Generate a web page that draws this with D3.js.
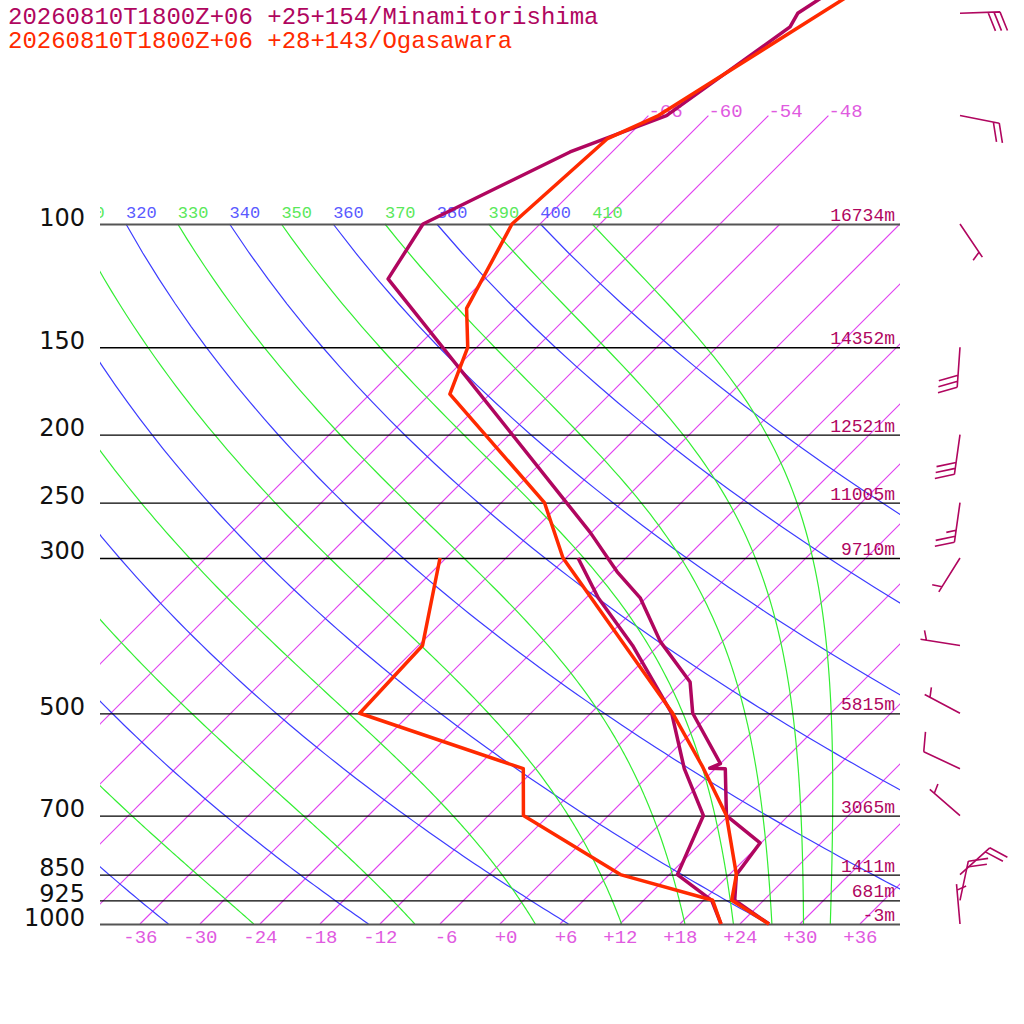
<!DOCTYPE html>
<html>
<head>
<meta charset="utf-8">
<script src="https://cdn.jsdelivr.net/npm/d3@7"></script>
<style>
  body { margin: 0; background: #fff; }
  svg { display: block; }
  .iso { fill: none; stroke: #e040f0; stroke-width: 1.15px; }
  .dry { fill: none; stroke: #3c3cff; stroke-width: 1.2px; }
  .moist { fill: none; stroke: #33ee33; stroke-width: 1.2px; }
</style>
</head>
<body>
<div id="chart"></div>
<script>
// sounding data
var stations = ["20260810T1800Z+06 +25+154/Minamitorishima", "20260810T1800Z+06 +28+143/Ogasawara"];

var minaP  = [45, 50, 52.3, 70, 78.9, 100, 119.8, 250, 276, 314, 342, 395, 451, 500, 590, 599, 600, 700, 766, 850, 925, 1000];
var minaT  = [-59.6, -61.3, -60.7, -64.2, -70.2, -77.7, -75.7, -35.5, -30.1, -23.5, -18.6, -12.2, -5.2, -1.8, 6.0, 5.4, 7.0, 11.8, 17.9, 18.7, 21.1, 26.9];
var minaDP = [300, 342, 400, 500, 600, 700, 850, 925, 1000];
var minaTd = [-28.8, -22.8, -14.6, -3.9, 2.9, 9.5, 12.8, 18.8, 22.1];

var ogaP  = [45, 70, 75.6, 100, 132, 150, 175, 250, 300, 500, 597, 700, 850, 925, 1000];
var ogaT  = [-57.1, -65.0, -67.8, -68.8, -64.9, -60.9, -58.0, -37.7, -30.3, -3.8, 4.6, 11.8, 18.7, 20.8, 26.9];
var ogaDP = [300, 400, 500, 600, 700, 850, 925, 1000];
var ogaTd = [-42.6, -35.6, -35.1, -13.2, -8.5, 7.1, 18.9, 22.1];

// winds (Minamitorishima)
var windP   = [50, 70, 100, 150, 200, 250, 300, 400, 500, 600, 700, 850, 925, 1000];
var windDir = [88, 101, 146, 184, 188, 188, 212, 279, 298, 295, 311, 48, 12, 355];
var windSpd = [30, 20, 5, 30, 30, 25, 5, 5, 5, 10, 5, 20, 20, 5];

// pressure levels and heights
var pLevels = [100, 150, 200, 250, 300, 500, 700, 850, 925, 1000];
var heights = ["16734m", "14352m", "12521m", "11005m", "9710m", "5815m", "3065m", "1411m", "681m", "-3m"];

var tempTicks = d3.range(-36, 37, 6);
var isotherms = d3.range(-66, 37, 6);
var upperIsotherms = [-66, -60, -54, -48];
var dryThetas = d3.range(240, 401, 20);
var moistThetaE = d3.range(250, 411, 20);

var svgWidth = 1024;
var svgHeight = 1024;

var purple = "#b0065f";
var orange = "#ff2a00";

var svg = d3.select("#chart")
    .append("svg")
    .attr("width", svgWidth)
    .attr("height", svgHeight);

svg.append("rect").attr("width", svgWidth).attr("height", svgHeight).attr("fill", "#fff");

// scales: log-p vertical, 45 degree skewed temperature
var xT = d3.scaleLinear().domain([-40, 40]).range([100, 900]);
var y = d3.scaleLog().domain([1000, 100]).range([924, 224]);

function sx(T, p) {
    return xT(T) + (y(1000) - y(p));
}

var line = d3.line()
    .x(d => sx(d[1], d[0]))
    .y(d => y(d[0]));

svg.append("clipPath").attr("id", "plotclip")
  .append("rect").attr("x", 100).attr("y", 0).attr("width", 800).attr("height", 924);

var bg = svg.append("g").attr("clip-path", "url(#plotclip)");

// isotherms
isotherms.forEach(function(T) {
    var pTop = upperIsotherms.indexOf(T) >= 0 ? 70 : 100;
    bg.append("path")
        .attr("class", "iso")
        .attr("d", line([[1000, T], [pTop, T]]));
});

// dry adiabats
function dryAdiabat(theta) {
    var pts = [];
    for (var p = 1000; p >= 100; p -= 10) {
        pts.push([p, theta * Math.pow(p / 1000, 0.2857) - 273.15]);
    }
    return pts;
}

// pseudo-adiabatic lapse rate dT/dp
function lapse(p, T) {
    var Rd = 287.04, cp = 1005.7, L = 2.501e6, eps = 0.622;
    var es = 6.112 * Math.exp(17.67 * (T - 273.15) / (T - 29.65));
    var rs = eps * es / (p - es);
    return (Rd * T + L * rs) / ((cp + L * L * rs * eps / (Rd * T * T)) * p);
}

function moistAdiabat(thetaE) {
    var p = 100;
    var T = thetaE * Math.pow(p / 1000, 0.2857);
    var pts = [[p, T - 273.15]];
    var dp = 5;
    while (p < 1000) {
        var k1 = lapse(p, T);
        var k2 = lapse(p + dp / 2, T + k1 * dp / 2);
        T += k2 * dp;
        p += dp;
        pts.push([p, T - 273.15]);
    }
    return pts;
}

dryThetas.forEach(function(th) {
    var pts = dryAdiabat(th);
    bg.append("path")
        .attr("class", "dry")
        .attr("d", line(pts));
    var last = pts[pts.length - 1];
    var lx = sx(last[1], last[0]);
    if (lx > 60) {
        bg.append("text")
            .attr("x", lx)
            .attr("y", y(100) - 6)
            .attr("fill", "#5a5aff")
            .attr("font-family", "Liberation Mono, monospace")
            .attr("font-size", 17)
            .text(th);
    }
});

moistThetaE.forEach(function(th) {
    var pts = moistAdiabat(th);
    bg.append("path")
        .attr("class", "moist")
        .attr("d", line(pts));
    var lx = sx(pts[0][1], pts[0][0]);
    if (lx > 60) {
        bg.append("text")
            .attr("x", lx)
            .attr("y", y(100) - 6)
            .attr("fill", "#5ae85a")
            .attr("font-family", "Liberation Mono, monospace")
            .attr("font-size", 17)
            .text(th);
    }
});

// upper isotherm labels
upperIsotherms.forEach(function(T) {
    svg.append("text")
        .attr("x", sx(T, 70))
        .attr("y", y(70) + 1)
        .attr("fill", "#e05ae0")
        .attr("font-family", "Liberation Mono, monospace")
        .attr("font-size", 19)
        .text("-" + Math.abs(T));
});

// pressure axis with grid lines
var yAxis = d3.axisLeft(y)
    .tickValues(pLevels)
    .tickSizeInner(-800)
    .tickSizeOuter(0)
    .tickPadding(15)
    .tickFormat(d3.format("d"));

var yAxisG = svg.append("g")
    .attr("transform", "translate(100, 0)")
    .call(yAxis);
yAxisG.select(".domain").remove();
yAxisG.selectAll(".tick line")
    .attr("stroke", d => (d === 100 || d === 1000) ? "#555" : "#000")
    .attr("stroke-width", d => (d === 100 || d === 1000) ? 2 : 1.3);
yAxisG.selectAll(".tick text")
    .attr("dy", 1)
    .attr("fill", "#111")
    .attr("font-family", "DejaVu Sans, sans-serif")
    .attr("font-size", 24);

// temperature axis
var xAxis = d3.axisBottom(xT)
    .tickValues(tempTicks)
    .tickSize(0)
    .tickFormat(d => (d >= 0 ? "+" : "-") + Math.abs(d));

var xAxisG = svg.append("g")
    .attr("transform", "translate(0, 924)")
    .call(xAxis);
xAxisG.select(".domain").remove();
xAxisG.selectAll(".tick text")
    .attr("y", 19)
    .attr("dy", 0)
    .attr("dx", 17)
    .attr("text-anchor", "end")
    .attr("fill", "#e05ae0")
    .attr("font-family", "Liberation Mono, monospace")
    .attr("font-size", 19);

// heights
svg.selectAll(".hgt")
    .data(pLevels)
    .enter()
    .append("text")
    .attr("x", 895)
    .attr("y", d => y(d) - 3)
    .attr("text-anchor", "end")
    .attr("fill", purple)
    .attr("font-family", "Liberation Mono, monospace")
    .attr("font-size", 18)
    .text((d, i) => heights[i]);

// profiles
function profile(P, T, color) {
    svg.append("path")
        .attr("d", line(P.map((p, i) => [p, T[i]])))
        .attr("fill", "none")
        .attr("stroke", color)
        .attr("stroke-width", 3.5)
        .attr("stroke-linejoin", "round");
}
profile(minaP, minaT, purple);
profile(minaDP, minaTd, purple);
profile(ogaP, ogaT, orange);
profile(ogaDP, ogaTd, orange);

// wind barbs
function barb(x0, y0, dir, spd) {
    var len = 40, step = 6, full = 20, half = 10, lean = 20 * Math.PI / 180;
    var r = dir * Math.PI / 180;
    var dx = Math.sin(r), dy = -Math.cos(r);
    var px = -dy, py = dx;
    var fx = px * Math.cos(lean) + dx * Math.sin(lean);
    var fy = py * Math.cos(lean) + dy * Math.sin(lean);
    var tx = x0 + dx * len, ty = y0 + dy * len;
    var path = d3.path();
    path.moveTo(x0, y0);
    path.lineTo(tx, ty);
    var nFull = Math.floor(spd / 10);
    var hasHalf = (spd % 10) >= 5;
    var pos = 0;
    for (var i = 0; i < nFull; i++) {
        var bx = tx - dx * step * pos, by = ty - dy * step * pos;
        path.moveTo(bx, by);
        path.lineTo(bx + fx * full, by + fy * full);
        pos++;
    }
    if (hasHalf) {
        if (pos === 0) pos = 1;
        var hx = tx - dx * step * pos, hy = ty - dy * step * pos;
        path.moveTo(hx, hy);
        path.lineTo(hx + fx * half, hy + fy * half);
    }
    svg.append("path")
        .attr("d", path.toString())
        .attr("fill", "none")
        .attr("stroke", purple)
        .attr("stroke-width", 1.6);
}
windP.forEach(function(p, i) {
    barb(960, y(p), windDir[i], windSpd[i]);
});

// titles
svg.append("text")
    .attr("x", 8).attr("y", 24)
    .attr("fill", purple)
    .attr("font-family", "Liberation Mono, monospace")
    .attr("font-size", 24)
    .text(stations[0]);
svg.append("text")
    .attr("x", 8).attr("y", 48)
    .attr("fill", orange)
    .attr("font-family", "Liberation Mono, monospace")
    .attr("font-size", 24)
    .text(stations[1]);
</script>
</body>
</html>
